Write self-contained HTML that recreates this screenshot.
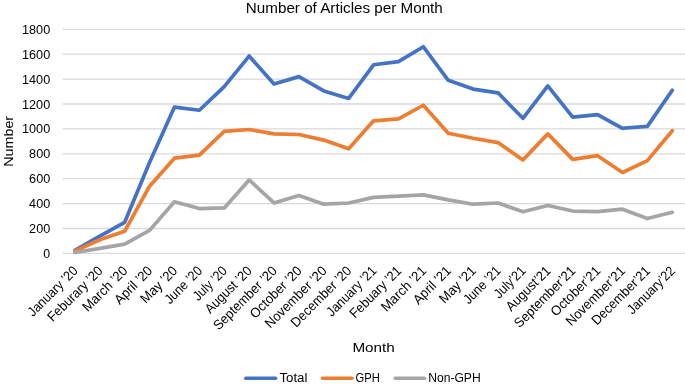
<!DOCTYPE html><html><head><meta charset="utf-8"><style>html,body{margin:0;padding:0;background:#fff;}svg{display:block;will-change:transform;}text{font-family:"Liberation Sans", sans-serif;}</style></head><body>
<svg width="685" height="385" viewBox="0 0 685 385">
<rect width="685" height="385" fill="#fff"/>
<line x1="62.5" x2="685" y1="253.40" y2="253.40" stroke="#d9d9d9" stroke-width="1.3"/>
<line x1="62.5" x2="685" y1="228.50" y2="228.50" stroke="#d9d9d9" stroke-width="1.3"/>
<line x1="62.5" x2="685" y1="203.60" y2="203.60" stroke="#d9d9d9" stroke-width="1.3"/>
<line x1="62.5" x2="685" y1="178.70" y2="178.70" stroke="#d9d9d9" stroke-width="1.3"/>
<line x1="62.5" x2="685" y1="153.80" y2="153.80" stroke="#d9d9d9" stroke-width="1.3"/>
<line x1="62.5" x2="685" y1="128.90" y2="128.90" stroke="#d9d9d9" stroke-width="1.3"/>
<line x1="62.5" x2="685" y1="104.00" y2="104.00" stroke="#d9d9d9" stroke-width="1.3"/>
<line x1="62.5" x2="685" y1="79.10" y2="79.10" stroke="#d9d9d9" stroke-width="1.3"/>
<line x1="62.5" x2="685" y1="54.20" y2="54.20" stroke="#d9d9d9" stroke-width="1.3"/>
<line x1="62.5" x2="685" y1="29.30" y2="29.30" stroke="#d9d9d9" stroke-width="1.3"/>
<text x="50.2" y="257.90" font-size="12.6" text-anchor="end" fill="#000" textLength="6.9" lengthAdjust="spacingAndGlyphs">0</text>
<text x="50.2" y="233.00" font-size="12.6" text-anchor="end" fill="#000" textLength="21.1" lengthAdjust="spacingAndGlyphs">200</text>
<text x="50.2" y="208.10" font-size="12.6" text-anchor="end" fill="#000" textLength="21.1" lengthAdjust="spacingAndGlyphs">400</text>
<text x="50.2" y="183.20" font-size="12.6" text-anchor="end" fill="#000" textLength="21.1" lengthAdjust="spacingAndGlyphs">600</text>
<text x="50.2" y="158.30" font-size="12.6" text-anchor="end" fill="#000" textLength="21.1" lengthAdjust="spacingAndGlyphs">800</text>
<text x="50.2" y="133.40" font-size="12.6" text-anchor="end" fill="#000" textLength="28.2" lengthAdjust="spacingAndGlyphs">1000</text>
<text x="50.2" y="108.50" font-size="12.6" text-anchor="end" fill="#000" textLength="28.2" lengthAdjust="spacingAndGlyphs">1200</text>
<text x="50.2" y="83.60" font-size="12.6" text-anchor="end" fill="#000" textLength="28.2" lengthAdjust="spacingAndGlyphs">1400</text>
<text x="50.2" y="58.70" font-size="12.6" text-anchor="end" fill="#000" textLength="28.2" lengthAdjust="spacingAndGlyphs">1600</text>
<text x="50.2" y="33.80" font-size="12.6" text-anchor="end" fill="#000" textLength="28.2" lengthAdjust="spacingAndGlyphs">1800</text>
<text transform="translate(78.60,271.70) rotate(-45)" font-size="13.6" text-anchor="end" fill="#000" textLength="64.4" lengthAdjust="spacingAndGlyphs">January &#8217;20</text>
<text transform="translate(103.48,271.70) rotate(-45)" font-size="13.6" text-anchor="end" fill="#000" textLength="71.6" lengthAdjust="spacingAndGlyphs">Feburary &#8217;20</text>
<text transform="translate(128.38,271.70) rotate(-45)" font-size="13.6" text-anchor="end" fill="#000" textLength="57.5" lengthAdjust="spacingAndGlyphs">March &#8217;20</text>
<text transform="translate(153.26,271.70) rotate(-45)" font-size="13.6" text-anchor="end" fill="#000" textLength="47.4" lengthAdjust="spacingAndGlyphs">April &#8217;20</text>
<text transform="translate(178.15,271.70) rotate(-45)" font-size="13.6" text-anchor="end" fill="#000" textLength="45.7" lengthAdjust="spacingAndGlyphs">May &#8217;20</text>
<text transform="translate(203.05,271.70) rotate(-45)" font-size="13.6" text-anchor="end" fill="#000" textLength="46.8" lengthAdjust="spacingAndGlyphs">June &#8217;20</text>
<text transform="translate(227.94,271.70) rotate(-45)" font-size="13.6" text-anchor="end" fill="#000" textLength="42.0" lengthAdjust="spacingAndGlyphs">July &#8217;20</text>
<text transform="translate(252.82,271.70) rotate(-45)" font-size="13.6" text-anchor="end" fill="#000" textLength="60.2" lengthAdjust="spacingAndGlyphs">August &#8217;20</text>
<text transform="translate(277.71,271.70) rotate(-45)" font-size="13.6" text-anchor="end" fill="#000" textLength="83.5" lengthAdjust="spacingAndGlyphs">September &#8217;20</text>
<text transform="translate(302.61,271.70) rotate(-45)" font-size="13.6" text-anchor="end" fill="#000" textLength="67.1" lengthAdjust="spacingAndGlyphs">October &#8217;20</text>
<text transform="translate(327.50,271.70) rotate(-45)" font-size="13.6" text-anchor="end" fill="#000" textLength="80.8" lengthAdjust="spacingAndGlyphs">November &#8217;20</text>
<text transform="translate(352.38,271.70) rotate(-45)" font-size="13.6" text-anchor="end" fill="#000" textLength="79.5" lengthAdjust="spacingAndGlyphs">December &#8217;20</text>
<text transform="translate(377.27,271.70) rotate(-45)" font-size="13.6" text-anchor="end" fill="#000" textLength="64.4" lengthAdjust="spacingAndGlyphs">January &#8217;21</text>
<text transform="translate(402.16,271.70) rotate(-45)" font-size="13.6" text-anchor="end" fill="#000" textLength="66.7" lengthAdjust="spacingAndGlyphs">Febuary &#8217;21</text>
<text transform="translate(427.06,271.70) rotate(-45)" font-size="13.6" text-anchor="end" fill="#000" textLength="57.5" lengthAdjust="spacingAndGlyphs">March &#8217;21</text>
<text transform="translate(451.94,271.70) rotate(-45)" font-size="13.6" text-anchor="end" fill="#000" textLength="47.4" lengthAdjust="spacingAndGlyphs">April &#8217;21</text>
<text transform="translate(476.83,271.70) rotate(-45)" font-size="13.6" text-anchor="end" fill="#000" textLength="45.7" lengthAdjust="spacingAndGlyphs">May &#8217;21</text>
<text transform="translate(501.72,271.70) rotate(-45)" font-size="13.6" text-anchor="end" fill="#000" textLength="46.8" lengthAdjust="spacingAndGlyphs">June &#8217;21</text>
<text transform="translate(526.62,271.70) rotate(-45)" font-size="13.6" text-anchor="end" fill="#000" textLength="38.8" lengthAdjust="spacingAndGlyphs">July&#8217;21</text>
<text transform="translate(551.51,271.70) rotate(-45)" font-size="13.6" text-anchor="end" fill="#000" textLength="57.1" lengthAdjust="spacingAndGlyphs">August&#8217;21</text>
<text transform="translate(576.40,271.70) rotate(-45)" font-size="13.6" text-anchor="end" fill="#000" textLength="80.3" lengthAdjust="spacingAndGlyphs">September&#8217;21</text>
<text transform="translate(601.29,271.70) rotate(-45)" font-size="13.6" text-anchor="end" fill="#000" textLength="64.0" lengthAdjust="spacingAndGlyphs">October&#8217;21</text>
<text transform="translate(626.18,271.70) rotate(-45)" font-size="13.6" text-anchor="end" fill="#000" textLength="77.6" lengthAdjust="spacingAndGlyphs">November&#8217;21</text>
<text transform="translate(651.07,271.70) rotate(-45)" font-size="13.6" text-anchor="end" fill="#000" textLength="76.4" lengthAdjust="spacingAndGlyphs">December&#8217;21</text>
<text transform="translate(675.96,271.70) rotate(-45)" font-size="13.6" text-anchor="end" fill="#000" textLength="61.3" lengthAdjust="spacingAndGlyphs">January&#8217;22</text>
<polyline points="74.90,250.29 99.78,236.22 124.68,222.28 149.56,162.51 174.45,107.11 199.35,110.22 224.24,86.57 249.12,56.07 274.01,84.08 298.91,76.61 323.80,90.93 348.69,98.40 373.57,64.78 398.46,61.67 423.36,46.73 448.25,80.34 473.13,89.06 498.02,92.80 522.92,118.32 547.81,85.95 572.70,117.07 597.59,114.58 622.48,128.28 647.37,126.41 672.26,90.18" fill="none" stroke="#4472c4" stroke-width="3.7" stroke-linejoin="round" stroke-linecap="round"/>
<polyline points="74.90,251.16 99.78,239.71 124.68,231.24 149.56,186.17 174.45,158.16 199.35,155.05 224.24,131.39 249.12,129.52 274.01,133.88 298.91,134.50 323.80,140.11 348.69,148.82 373.57,120.81 398.46,118.94 423.36,105.25 448.25,133.26 473.13,138.24 498.02,142.59 522.92,160.03 547.81,133.88 572.70,159.40 597.59,155.67 622.48,172.48 647.37,160.65 672.26,130.77" fill="none" stroke="#ed7d31" stroke-width="3.7" stroke-linejoin="round" stroke-linecap="round"/>
<polyline points="74.90,252.53 99.78,248.42 124.68,244.06 149.56,230.37 174.45,201.73 199.35,208.58 224.24,207.96 249.12,179.94 274.01,202.98 298.91,195.51 323.80,204.22 348.69,202.98 373.57,197.38 398.46,196.13 423.36,194.88 448.25,199.87 473.13,204.22 498.02,202.98 522.92,211.69 547.81,205.47 572.70,211.07 597.59,211.69 622.48,209.20 647.37,218.54 672.26,212.31" fill="none" stroke="#a5a5a5" stroke-width="3.7" stroke-linejoin="round" stroke-linecap="round"/>
<text x="344.3" y="12.8" font-size="14" text-anchor="middle" fill="#000" textLength="197" lengthAdjust="spacingAndGlyphs">Number of Articles per Month</text>
<text x="373.6" y="351.9" font-size="13" text-anchor="middle" fill="#000" textLength="42.4" lengthAdjust="spacingAndGlyphs">Month</text>
<text transform="translate(12.5,141.3) rotate(-90)" font-size="13" text-anchor="middle" fill="#000" textLength="50.8" lengthAdjust="spacingAndGlyphs">Number</text>
<line x1="245.8" x2="275.6" y1="378.3" y2="378.3" stroke="#4472c4" stroke-width="3.6" stroke-linecap="round"/>
<text x="279.4" y="381.9" font-size="12.3" fill="#000" textLength="28.0" lengthAdjust="spacingAndGlyphs">Total</text>
<line x1="322.6" x2="352.0" y1="378.3" y2="378.3" stroke="#ed7d31" stroke-width="3.6" stroke-linecap="round"/>
<text x="355.6" y="381.9" font-size="12.3" fill="#000" textLength="24.3" lengthAdjust="spacingAndGlyphs">GPH</text>
<line x1="395.3" x2="424.4" y1="378.3" y2="378.3" stroke="#a5a5a5" stroke-width="3.6" stroke-linecap="round"/>
<text x="428.2" y="381.9" font-size="12.3" fill="#000" textLength="52.5" lengthAdjust="spacingAndGlyphs">Non-GPH</text>
</svg></body></html>
